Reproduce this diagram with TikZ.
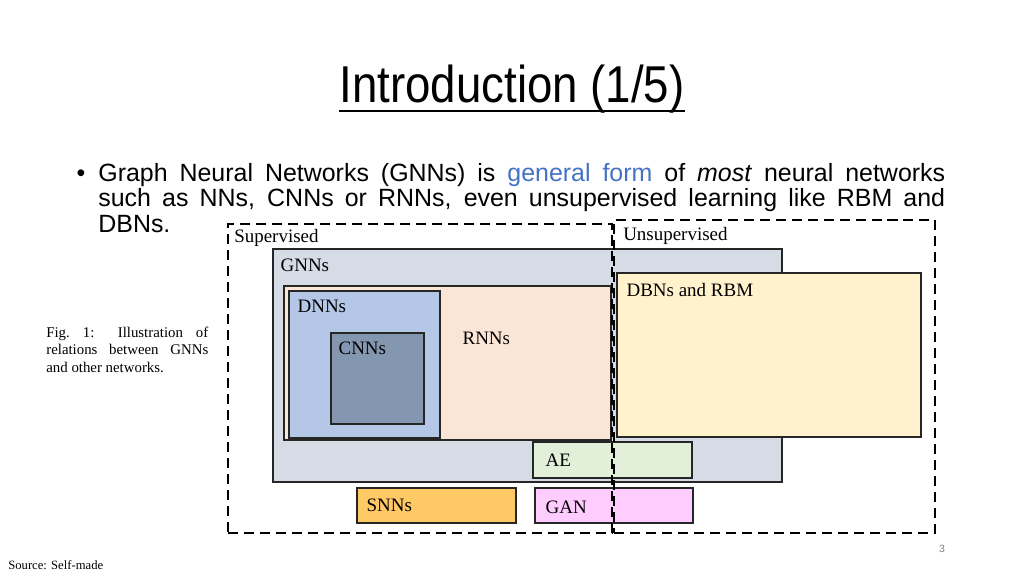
\documentclass[tikz,border=0pt]{standalone}
\usepackage{fontspec}
\setmainfont{Liberation Serif}
\newfontfamily\slidefont{Liberation Sans}
\newfontfamily\titlefont{Liberation Sans}[FakeStretch=0.88]
\usepackage{xcolor}
\usetikzlibrary{fit}
\usetikzlibrary{positioning}

\definecolor{boxline}{HTML}{262626}
\definecolor{gnnfill}{HTML}{D6DCE5}
\definecolor{rnnfill}{HTML}{FBE5D6}
\definecolor{dnnfill}{HTML}{B4C7E7}
\definecolor{cnnfill}{HTML}{8497B0}
\definecolor{dbnfill}{HTML}{FFF2CC}
\definecolor{aefill}{HTML}{E2F0D9}
\definecolor{snnfill}{HTML}{FFC965}
\definecolor{ganfill}{HTML}{FFCCFF}
\definecolor{linkblue}{HTML}{4472C4}

\begin{document}
\begin{tikzpicture}[x=0.02cm, y=-0.02cm,
	box/.style={draw=boxline, line width=0.85pt, inner sep=0pt},
	dashbox/.style={draw=black, line width=1.25pt, dash pattern=on 5.7pt off 3.4pt, inner sep=0pt},
	lbl/.style={font=\fontsize{10.8}{13}\selectfont, inner sep=0pt, anchor=base west}]
		\useasboundingbox (0,0) rectangle (1024,576);
		
		% title and bullet text
		\node[anchor=base, inner sep=0pt, font=\titlefont\fontsize{29.5}{32}\selectfont] (title) at (512,102) {Introduction (1/5)};
		\draw[line width=0.85pt] ([yshift=-0.18cm]title.base west) -- ([yshift=-0.18cm]title.base east);
		
		\node[anchor=base west, inner sep=0pt, text width=16.94cm, align=justify, font=\slidefont\fontsize{14.2}{14.75}\selectfont] (bullet) at (98,181) {Graph Neural Networks (GNNs) is \textcolor{linkblue}{general form} of \textit{most} neural networks\linebreak such as NNs, CNNs or RNNs, even unsupervised learning like RBM and\linebreak DBNs.};
		\node[anchor=base, inner sep=0pt, font=\slidefont\fontsize{14.2}{14.75}\selectfont] (dot) at (81,181) {\textbullet};
		
		% boxes
		\node[box, fill=gnnfill, fit={(273,249) (782,482)}] (gnn) {};
		\node[box, fill=rnnfill, fit={(284,286) (611,440)}] (rnn) {};
		\node[box, fill=dnnfill, fit={(289,291) (440,438)}] (dnn) {};
		\node[box, fill=cnnfill, fit={(331,333) (424,424)}] (cnn) {};
		\node[box, fill=dbnfill, fit={(617,273) (921,437)}] (dbn) {};
		\node[box, fill=aefill, fit={(533,442) (692,478)}] (ae) {};
		\node[box, fill=snnfill, fit={(357,488) (516,523)}] (snn) {};
		\node[box, fill=ganfill, fit={(535,488) (693,523)}] (gan) {};
		
		\node[lbl] (gnnlbl) at ([shift={(8,23)}]gnn.north west) {GNNs};
		\node[lbl] (rnnlbl) at ([shift={(179,59)}]rnn.north west) {RNNs};
		\node[lbl] (dnnlbl) at ([shift={(9,22)}]dnn.north west) {DNNs};
		\node[lbl] (cnnlbl) at ([shift={(8,22)}]cnn.north west) {CNNs};
		\node[lbl] (dbnlbl) at ([shift={(10,24)}]dbn.north west) {DBNs and RBM};
		\node[lbl] (aelbl) at ([shift={(13,25)}]ae.north west) {AE};
		\node[lbl] (snnlbl) at ([shift={(10,24)}]snn.north west) {SNNs};
		\node[lbl] (ganlbl) at ([shift={(11,26)}]gan.north west) {GAN};
		
		% dashed groups
		\node[dashbox, fit={(228,224) (612,533)}] (sup) {};
		\node[dashbox, fit={(614,220) (935,533)}] (unsup) {};
		\node[lbl] (suplbl) at ([shift={(7,20)}]sup.north west) {Supervised};
		\node[lbl] (unsuplbl) at ([shift={(10,22)}]unsup.north west) {Unsupervised};
		
		% caption, source, page
		\node[anchor=base west, inner sep=0pt, text width=3.24cm, align=justify, font=\fontsize{8.45}{10.2}\selectfont] (caption) at (46,337) {Fig.~1: Illustration of\linebreak relations between GNNs\linebreak and other networks.};
		\node[anchor=base west, inner sep=0pt, font=\fontsize{7.2}{8}\selectfont] (source) at (8,569) {Source: Self-made};
		\node[anchor=base, inner sep=0pt, text=gray, font=\slidefont\fontsize{6}{7}\selectfont] (pagenum) at (942,552) {3};
\end{tikzpicture}
\end{document}
